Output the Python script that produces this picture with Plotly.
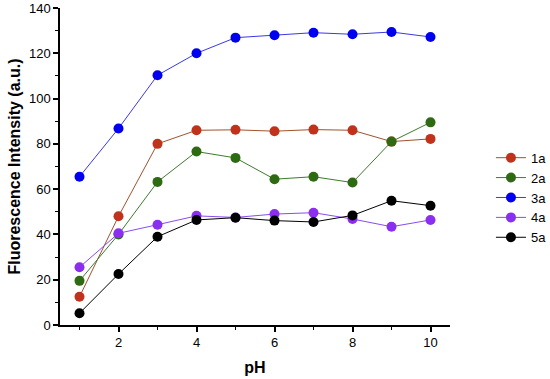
import plotly.graph_objects as go

ph = [1, 2, 3, 4, 5, 6, 7, 8, 9, 10]
s1a = [12.5, 48.0, 80.0, 86.0, 86.2, 85.6, 86.3, 86.0, 81.0, 82.2]
s2a = [19.5, 40.0, 63.2, 76.6, 73.8, 64.4, 65.5, 62.9, 81.0, 89.5]
s3a = [65.5, 86.8, 110.3, 120.0, 126.9, 128.0, 129.1, 128.4, 129.4, 127.2]
s4a = [25.5, 40.5, 44.3, 48.2, 47.5, 49.0, 49.6, 46.8, 43.4, 46.4]
s5a = [5.2, 22.5, 39.0, 46.4, 47.4, 46.1, 45.5, 48.4, 54.9, 52.7]

series = [
    ("1a", s1a, "#c0321c", "#a0522d"),
    ("2a", s2a, "#2e6a12", "#3f7a2f"),
    ("3a", s3a, "#0000f0", "#3a3ae0"),
    ("4a", s4a, "#8a2ef0", "#8a4af0"),
    ("5a", s5a, "#000000", "#000000"),
]

FONT = "Arial, Liberation Sans, sans-serif"

fig = go.Figure()
for name, vals, mc, lc in series:
    fig.add_trace(go.Scatter(
        x=ph, y=vals, name=name, mode="lines+markers",
        line=dict(color=lc, width=1),
        marker=dict(color=mc, size=10),
    ))

axis_common = dict(
    showgrid=False, zeroline=False, showline=True, linecolor="black", linewidth=1.5,
    ticks="outside", ticklen=5, tickwidth=1.5, tickcolor="black",
    tickfont=dict(family=FONT, size=13, color="black"), automargin=False,
)

fig.update_layout(
    width=550, height=379,
    margin=dict(l=60, r=100, t=8, b=54, autoexpand=False),
    plot_bgcolor="white", paper_bgcolor="white",
    xaxis=dict(range=[0.5, 10.5], tickvals=[2, 4, 6, 8, 10],
               title=dict(text="<b>pH</b>", font=dict(family=FONT, size=16, color="black"), standoff=12),
               minor=dict(ticks="outside", ticklen=3, tickwidth=1, tickcolor="black", tickvals=[1, 3, 5, 7, 9]),
               **axis_common),
    yaxis=dict(range=[0, 140], tickvals=[0, 20, 40, 60, 80, 100, 120, 140],
               title=dict(text="<b>Fluorescence Intensity (a.u.)</b>", font=dict(family=FONT, size=16, color="black"), standoff=4),
               minor=dict(ticks="outside", ticklen=3, tickwidth=1, tickcolor="black", tickvals=[10, 30, 50, 70, 90, 110, 130]),
               **axis_common),
    legend=dict(x=1.105, y=0.575, xanchor="left", yanchor="top",
                font=dict(family=FONT, size=13, color="black"),
                bgcolor="rgba(0,0,0,0)", tracegroupgap=0, itemwidth=30),
    showlegend=True,
)

fig.write_html("out.html", config={"displayModeBar": False},
               post_script="document.body.style.margin='0';")
